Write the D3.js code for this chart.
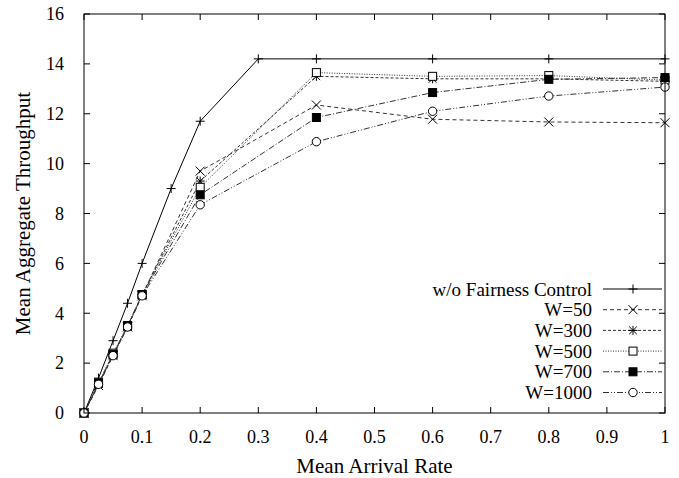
<!DOCTYPE html>
<html>
<head>
<meta charset="utf-8">
<script src="https://cdn.jsdelivr.net/npm/d3@7"></script>
<style>
  body { margin: 0; background: #fff; }
  text { font-family: "Liberation Serif", "Times New Roman", serif; fill: #000; }
</style>
</head>
<body>
<div class="chart"></div>
<script>
const width = 679
const height = 478
const margin = ({top: 14, right: 14, bottom: 65, left: 84})

// data
const xFull = [0, 0.025, 0.05, 0.075, 0.1, 0.15, 0.2, 0.3, 0.4, 0.6, 0.8, 1]
const yNoFair = [0, 1.4, 2.9, 4.4, 6.0, 9.0, 11.7, 14.2, 14.2, 14.2, 14.2, 14.2]
const xW = [0, 0.025, 0.05, 0.075, 0.1, 0.2, 0.4, 0.6, 0.8, 1]
const yW50 = [0, 1.1, 2.3, 3.45, 4.7, 9.7, 12.35, 11.78, 11.67, 11.64]
const yW300 = [0, 1.15, 2.35, 3.45, 4.75, 9.3, 13.5, 13.4, 13.4, 13.3]
const yW500 = [0, 1.2, 2.4, 3.5, 4.75, 9.05, 13.65, 13.5, 13.53, 13.35]
const yW700 = [0, 1.2, 2.35, 3.5, 4.75, 8.75, 11.85, 12.85, 13.38, 13.45]
const yW1000 = [0, 1.15, 2.3, 3.45, 4.7, 8.35, 10.88, 12.1, 12.71, 13.07]
const seriesNames = ['w/o Fairness Control', 'W=50', 'W=300', 'W=500', 'W=700', 'W=1000']
const xTicks = [0, 0.1, 0.2, 0.3, 0.4, 0.5, 0.6, 0.7, 0.8, 0.9, 1]
const yTicks = [0, 2, 4, 6, 8, 10, 12, 14, 16]

const series = [
  {name: seriesNames[0], xs: xFull, ys: yNoFair, dash: null, mark: 'plus'},
  {name: seriesNames[1], xs: xW, ys: yW50, dash: '4,3', mark: 'cross'},
  {name: seriesNames[2], xs: xW, ys: yW300, dash: '3,2', mark: 'star'},
  {name: seriesNames[3], xs: xW, ys: yW500, dash: '1,1.5', mark: 'box'},
  {name: seriesNames[4], xs: xW, ys: yW700, dash: '6,2,1,2', mark: 'fbox'},
  {name: seriesNames[5], xs: xW, ys: yW1000, dash: '6,2,1,2,1,2', mark: 'circle'}
]

const svg = d3.select('.chart').append('svg')
    .attr('width', width)
    .attr('height', height)

const x = d3.scaleLinear().domain([0, 1]).range([margin.left, width - margin.right])
const y = d3.scaleLinear().domain([0, 16]).range([height - margin.bottom, margin.top])

const tickLen = 6
const axisColor = '#000'

// ticks on all four sides, pointing inward
const tk = svg.append('g').attr('stroke', axisColor).attr('stroke-width', 1)
xTicks.forEach(t => {
  tk.append('line').attr('x1', x(t)).attr('x2', x(t)).attr('y1', y(0)).attr('y2', y(0) - tickLen)
  tk.append('line').attr('x1', x(t)).attr('x2', x(t)).attr('y1', y(16)).attr('y2', y(16) + tickLen)
})
yTicks.forEach(t => {
  tk.append('line').attr('x1', x(0)).attr('x2', x(0) + tickLen).attr('y1', y(t)).attr('y2', y(t))
  tk.append('line').attr('x1', x(1)).attr('x2', x(1) - tickLen).attr('y1', y(t)).attr('y2', y(t))
})

svg.append('g').selectAll('text')
    .data(xTicks)
    .join('text')
    .attr('x', d => x(d))
    .attr('y', y(0) + 30)
    .attr('text-anchor', 'middle')
    .attr('font-size', 18)
    .text(d => d3.format('~g')(d))

svg.append('g').selectAll('text')
    .data(yTicks)
    .join('text')
    .attr('x', x(0) - 20)
    .attr('y', d => y(d))
    .attr('dy', '0.35em')
    .attr('text-anchor', 'end')
    .attr('font-size', 18)
    .text(d => d)

svg.append('text')
    .attr('x', (x(0) + x(1)) / 2)
    .attr('y', 473)
    .attr('text-anchor', 'middle')
    .attr('font-size', 21)
    .text('Mean Arrival Rate')

svg.append('text')
    .attr('transform', `translate(30, ${(y(0) + y(16)) / 2}) rotate(-90)`)
    .attr('text-anchor', 'middle')
    .attr('font-size', 21)
    .text('Mean Aggregate Throughput')

const line = d3.line().x(d => x(d[0])).y(d => y(d[1]))

let drawMark = function(g, kind, cx, cy) {
  const s = 4.5
  if (kind === 'plus') {
    g.append('path').attr('d', `M${cx - s},${cy}H${cx + s}M${cx},${cy - s}V${cy + s}`)
      .attr('stroke', '#000').attr('fill', 'none')
  } else if (kind === 'cross') {
    g.append('path').attr('d', `M${cx - s},${cy - s}L${cx + s},${cy + s}M${cx - s},${cy + s}L${cx + s},${cy - s}`)
      .attr('stroke', '#000').attr('fill', 'none')
  } else if (kind === 'star') {
    const r = 3.8
    g.append('path').attr('d', `M${cx - r},${cy - r}L${cx + r},${cy + r}M${cx - r},${cy + r}L${cx + r},${cy - r}M${cx - s},${cy}H${cx + s}M${cx},${cy - s}V${cy + s}`)
      .attr('stroke', '#000').attr('fill', 'none')
  } else if (kind === 'box' || kind === 'fbox') {
    g.append('rect').attr('x', cx - 4).attr('y', cy - 4).attr('width', 8).attr('height', 8)
      .attr('stroke', '#000').attr('fill', kind === 'fbox' ? '#000' : '#fff')
  } else if (kind === 'circle') {
    g.append('circle').attr('cx', cx).attr('cy', cy).attr('r', 4.2)
      .attr('stroke', '#000').attr('fill', '#fff')
  }
}

const plot = svg.append('g')
series.forEach(s => {
  const pts = s.xs.map((v, i) => [v, s.ys[i]])
  plot.append('path')
      .attr('d', line(pts))
      .attr('fill', 'none')
      .attr('stroke', s.dash ? '#333' : '#000')
      .attr('stroke-width', 1)
      .attr('stroke-dasharray', s.dash)
})
series.forEach(s => {
  const g = plot.append('g')
  s.xs.forEach((v, i) => drawMark(g, s.mark, x(v), y(s.ys[i])))
})

// LEGEND
const legend = svg.append('g')
series.forEach((s, i) => {
  const ly = 289 + i * 20.7
  legend.append('text')
      .attr('x', 592)
      .attr('y', ly)
      .attr('dy', '0.35em')
      .attr('text-anchor', 'end')
      .attr('font-size', 19)
      .text(s.name)
  legend.append('line')
      .attr('x1', 603).attr('x2', 662).attr('y1', ly).attr('y2', ly)
      .attr('stroke', s.dash ? '#333' : '#000')
      .attr('stroke-dasharray', s.dash)
  drawMark(legend, s.mark, 633, ly)
})

// frame
svg.append('rect')
    .attr('x', x(0)).attr('y', y(16))
    .attr('width', x(1) - x(0)).attr('height', y(0) - y(16))
    .attr('fill', 'none').attr('stroke', axisColor).attr('stroke-width', 1)
</script>
</body>
</html>
